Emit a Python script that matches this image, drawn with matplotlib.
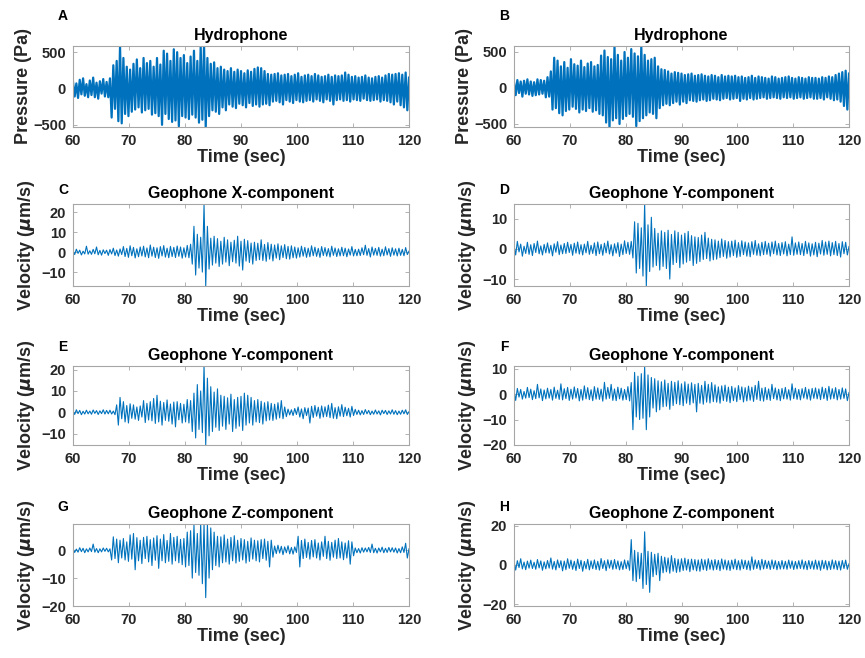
import numpy as np
import matplotlib
matplotlib.use("Agg")
import matplotlib.pyplot as plt

# ====== TRACE VALUES (one value every 0.3 s from 60 s) ======
t_start = 60.0
dt = 0.3

hydro_a = [
    90, -110, 70, -130, 120, -80, 140, -100, 60, -120,
    110, -90, 150, -120, 80, -140, 100, -70, 130, -110,
    90, -120, 140, -400, 320, -280, 380, -450, 580, -480,
    420, -350, 300, -380, 260, -320, 340, -290, 400, -260,
    280, -330, 420, -300, 350, -280, 380, -360, 300, -340,
    420, -380, 330, -500, 520, -350, 480, -420, 380, -460,
    540, -440, 500, -520, 420, -380, 460, -400, 350, -420,
    440, -360, 520, -400, 380, -470, 580, -430, 600, -530,
    420, -380, 340, -300, 360, -320, 280, -350, 300, -260,
    260, -300, 240, -220, 280, -250, 230, -270, 260, -210,
    240, -230, 210, -260, 250, -200, 230, -240, 270, -220,
    290, -250, 280, -220, 240, -210, 200, -230, 190, -180,
    200, -170, 210, -190, 180, -220, 190, -160, 200, -180,
    170, -200, 190, -160, 210, -180, 160, -190, 180, -170,
    190, -160, 170, -180, 200, -150, 180, -170, 160, -190,
    170, -150, 190, -170, 160, -220, 180, -160, 170, -150,
    180, -170, 220, -160, 190, -180, 160, -150, 170, -160,
    150, -170, 160, -140, 180, -160, 150, -170, 140, -160,
    160, -150, 170, -180, 150, -160, 180, -170, 200, -190,
    190, -220, 200, -180, 210, -230, 190, -260, 220, -300,
    150,
]

hydro_b = [
    80, -100, 110, -70, 90, -120, 100, -80, 120, -90,
    90, -110, 80, -100, 120, -90, 110, -80, 100, -130,
    150, -120, 230, -300, 420, -280, 380, -350, 300, -380,
    360, -320, 280, -300, 400, -260, 330, -290, 310, -340,
    380, -300, 290, -320, 340, -280, 360, -330, 300, -310,
    320, -360, 450, -380, 520, -480, 430, -560, 400, -450,
    580, -420, 460, -500, 380, -430, 500, -390, 420, -360,
    540, -400, 480, -530, 440, -460, 580, -420, 460, -380,
    380, -340, 400, -360, 420, -420, 300, -280, 260, -240,
    250, -220, 230, -240, 200, -210, 220, -190, 210, -230,
    200, -190, 180, -210, 190, -170, 200, -180, 170, -190,
    180, -170, 190, -160, 170, -180, 160, -170, 180, -150,
    170, -160, 150, -170, 180, -150, 160, -140, 170, -160,
    160, -150, 170, -140, 150, -180, 160, -150, 140, -160,
    150, -140, 170, -160, 140, -150, 160, -140, 150, -130,
    140, -150, 130, -140, 160, -130, 150, -140, 130, -150,
    140, -130, 150, -140, 160, -130, 140, -150, 130, -140,
    150, -130, 140, -150, 130, -140, 150, -130, 140, -150,
    140, -150, 130, -140, 150, -160, 140, -130, 160, -150,
    150, -170, 180, -160, 200, -190, 220, -250, 240, -300,
    200,
]

geo_c = [
    0.8, -1.2, 1.5, -0.6, 1.0, -1.4, 0.5, -0.9, 3.0, -1.0,
    0.7, -1.1, 1.4, -0.8, 2.6, -1.3, 0.9, -1.5, 1.2, -0.7,
    1.0, -1.6, 1.3, -0.9, 2.0, -1.7, 1.1, -2.0, 1.6, -1.2,
    2.8, -2.2, 1.9, -2.6, 3.2, -1.8, 2.4, -2.9, 1.7, -2.3,
    2.6, -1.9, 3.0, -2.4, 2.1, -2.8, 3.6, -2.0, 2.5, -2.7,
    2.2, -3.1, 2.8, -1.9, 3.3, -2.5, 2.0, -2.8, 2.9, -2.2,
    2.4, -2.7, 3.1, -2.1, 2.6, -3.0, 2.2, -2.5, 3.4, -2.8,
    4.0, -6.0, 13.0, -11.5, 9.0, -8.0, 7.5, -10.0, 24.0, -17.0,
    13.0, -8.5, 7.0, -6.5, 8.0, -5.5, 6.8, -7.2, 5.5, -6.0,
    7.5, -5.0, 6.2, -6.8, 5.0, -4.8, 6.0, -5.5, 8.0, -7.0,
    5.5, -9.0, 6.5, -4.5, 5.8, -5.2, 4.6, -6.0, 5.0, -4.2,
    4.5, -3.8, 6.2, -4.2, 3.9, -4.6, 4.8, -3.5, 4.0, -4.4,
    3.6, -3.0, 4.2, -3.8, 3.2, -2.7, 3.8, -3.3, 2.9, -3.5,
    3.2, -2.8, 2.6, -3.0, 2.2, -2.5, 3.0, -2.0, 2.4, -2.6,
    2.0, -2.3, 3.2, -1.8, 2.5, -2.1, 1.9, -2.6, 2.8, -1.7,
    2.3, -2.0, 1.8, -2.4, 3.0, -1.6, 2.1, -2.2, 1.7, -1.9,
    2.5, -1.8, 2.0, -2.3, 1.6, -1.5, 2.8, -1.9, 1.4, -1.8,
    1.5, -1.7, 2.2, -1.3, 3.5, -1.6, 1.8, -2.4, 2.6, -1.5,
    1.9, -1.6, 2.4, -2.0, 1.5, -1.8, 2.7, -1.4, 1.8, -2.1,
    2.2, -1.5, 1.7, -1.9, 2.0, -1.6, 1.4, -1.8, 2.3, -1.2,
    0.5,
]

geo_d = [
    1.2, -2.0, 2.5, -1.0, 1.6, -2.4, 0.9, -1.5, 2.2, -1.8,
    1.4, -2.2, 1.8, -1.2, 2.6, -1.6, 1.0, -2.0, 1.5, -1.3,
    2.0, -1.4, 1.2, -2.3, 1.7, -1.1, 2.4, -1.9, 1.3, -1.6,
    1.8, -1.5, 2.2, -1.2, 1.5, -2.1, 1.9, -1.4, 2.3, -1.7,
    1.4, -2.0, 1.6, -1.3, 2.5, -1.8, 1.2, -1.5, 2.0, -2.2,
    2.3, -1.6, 1.5, -2.1, 1.9, -1.3, 2.6, -1.7, 1.4, -2.3,
    1.7, -1.4, 2.1, -2.5, 1.6, -1.9, 2.7, -1.5, 2.2, -1.8,
    2.5, -3.0, 9.0, -8.0, 8.5, -6.5, 7.0, -9.0, 15.0, -12.3,
    8.0, -7.5, 10.5, -6.0, 6.8, -5.5, 5.2, -7.0, 6.0, -5.8,
    5.5, -6.5, 6.2, -10.0, 4.8, -5.2, 6.0, -4.5, 5.5, -6.2,
    4.6, -5.0, 5.2, -4.4, 5.8, -3.9, 4.4, -5.5, 4.0, -4.8,
    3.8, -4.2, 4.6, -3.5, 5.5, -3.2, 3.6, -4.0, 3.2, -3.6,
    3.0, -3.4, 2.6, -2.9, 3.3, -2.5, 2.8, -3.1, 2.4, -2.7,
    2.6, -2.2, 2.9, -2.8, 2.1, -2.5, 2.7, -1.9, 2.3, -2.4,
    2.0, -2.6, 2.4, -1.8, 2.8, -2.1, 1.7, -2.3, 2.2, -1.9,
    2.5, -1.8, 1.9, -2.4, 2.3, -1.6, 2.6, -2.0, 1.8, -2.2,
    2.1, -1.7, 2.4, -2.3, 1.6, -1.9, 4.0, -2.1, 2.0, -1.8,
    2.3, -1.9, 1.8, -2.2, 2.5, -1.6, 2.0, -2.4, 1.7, -2.0,
    2.2, -2.6, 1.9, -1.7, 2.8, -2.1, 2.3, -1.8, 2.6, -2.3,
    2.1, -1.9, 2.5, -2.2, 1.8, -2.7, 2.4, -1.6, 2.2, -2.0,
    0.8,
]

geo_e = [
    0.8, -1.0, 1.2, -0.6, 0.9, -1.1, 0.5, -0.8, 1.0, -0.7,
    0.6, -0.9, 1.1, -0.5, 0.8, -1.0, 0.7, -0.6, 1.2, -0.8,
    0.9, -0.7, 1.0, -0.8, 0.6, -1.1, 3.5, -6.0, 7.0, -3.0,
    5.0, -4.5, 3.2, -5.0, 4.0, -2.8, 3.5, -3.2, 2.5, -3.8,
    3.0, -2.2, 5.5, -4.8, 4.2, -3.6, 5.0, -4.0, 6.5, -5.2,
    8.0, -4.5, 5.2, -6.0, 4.6, -3.8, 5.8, -4.2, 3.9, -5.5,
    4.8, -6.8, 5.0, -3.5, 4.2, -5.0, 3.8, -4.5, 6.0, -5.0,
    5.5, -9.0, 9.0, -12.0, 13.0, -8.0, 10.0, -9.5, 22.0, -15.3,
    16.0, -11.0, 12.0, -9.0, 9.5, -7.0, 11.0, -8.5, 8.0, -6.5,
    7.5, -8.0, 6.8, -5.5, 8.5, -9.0, 6.0, -7.5, 7.0, -6.5,
    7.5, -8.5, 9.0, -6.0, 8.0, -5.0, 7.0, -6.0, 5.5, -4.5,
    6.0, -4.8, 5.2, -5.5, 4.5, -4.0, 5.0, -3.6, 4.2, -3.8,
    3.8, -3.2, 4.5, -2.6, 5.5, -3.0, 2.5, -2.0, 1.5, -1.2,
    1.2, -1.5, 1.8, -1.0, 2.5, -2.2, 1.6, -3.0, 2.2, -1.5,
    2.0, -5.0, 2.8, -2.4, 3.2, -1.8, 2.4, -2.8, 3.0, -2.2,
    2.6, -2.0, 3.4, -2.5, 4.2, -2.8, 2.2, -3.0, 2.6, -1.8,
    3.6, -2.0, 2.4, -1.6, 1.9, -2.2, 2.8, -1.5, 1.4, -1.0,
    1.0, -1.2, 0.8, -1.0, 1.3, -0.7, 0.9, -1.1, 0.6, -0.9,
    1.1, -0.8, 0.7, -1.2, 1.0, -0.6, 0.9, -1.0, 0.7, -0.8,
    1.2, -0.9, 0.8, -1.1, 0.6, -0.9, 1.0, -0.7, 1.2, -1.0,
    0.3,
]

geo_f = [
    1.5, -2.5, 2.2, -1.2, 1.8, -2.0, 1.0, -1.6, 2.6, -1.4,
    1.9, -2.2, 1.3, -1.8, 3.8, -1.5, 2.0, -2.6, 1.6, -1.9,
    2.3, -1.6, 1.8, -2.4, 2.7, -1.7, 1.5, -2.1, 4.0, -2.3,
    2.1, -1.8, 2.6, -2.5, 1.9, -2.0, 2.8, -1.6, 2.2, -2.7,
    1.8, -2.4, 3.2, -1.9, 2.5, -2.2, 1.7, -2.6, 2.9, -2.0,
    2.4, -2.1, 1.9, -2.8, 4.6, -2.0, 2.6, -1.7, 3.8, -2.5,
    2.0, -2.6, 2.7, -1.9, 2.3, -2.4, 1.8, -2.2, 2.9, -2.7,
    4.5, -14.0, 8.5, -9.0, 7.0, -10.0, 8.0, -9.5, 11.0, -14.0,
    7.5, -9.0, 6.5, -5.5, 6.0, -7.0, 5.2, -6.2, 4.8, -5.0,
    5.5, -4.8, 4.2, -6.0, 5.0, -4.5, 4.6, -3.8, 5.2, -4.2,
    4.0, -4.6, 4.8, -3.6, 3.9, -4.2, 4.4, -3.5, 3.8, -7.0,
    4.2, -3.6, 3.4, -4.0, 5.0, -3.2, 3.8, -3.5, 4.5, -3.0,
    3.6, -3.2, 2.8, -3.6, 3.2, -2.6, 3.5, -2.9, 2.7, -3.4,
    3.0, -2.6, 2.4, -3.0, 3.3, -2.2, 2.8, -3.1, 2.5, -2.7,
    3.1, -2.4, 2.7, -2.9, 3.4, -2.1, 5.0, -2.6, 2.3, -2.8,
    2.6, -2.2, 2.0, -2.5, 3.8, -1.8, 2.4, -2.3, 1.9, -2.6,
    2.2, -1.9, 2.6, -2.0, 1.7, -2.4, 4.0, -1.8, 2.3, -2.1,
    1.8, -2.3, 2.1, -1.6, 2.6, -2.0, 1.9, -2.4, 2.2, -1.7,
    2.4, -1.9, 2.0, -2.2, 2.7, -1.8, 2.2, -2.5, 3.0, -2.0,
    2.1, -1.8, 2.5, -2.3, 1.8, -2.0, 2.4, -1.7, 2.0, -2.6,
    0.6,
]

geo_g = [
    0.6, -0.8, 0.4, -0.7, 0.9, -0.5, 0.7, -0.9, 0.5, -0.6,
    0.8, -0.5, 2.2, -0.7, 0.6, -0.9, 0.5, -0.6, 0.8, -0.4,
    0.7, -0.6, 0.5, -3.5, 4.8, -3.0, 4.0, -4.5, 3.6, -2.8,
    4.2, -3.5, 3.0, -4.0, 5.5, -3.2, 6.0, -7.0, 4.5, -3.8,
    3.6, -4.8, 4.6, -3.0, 5.0, -4.2, 3.8, -5.5, 4.4, -3.6,
    5.2, -6.5, 4.0, -3.8, 5.6, -4.5, 3.5, -4.0, 6.0, -5.0,
    4.6, -3.8, 5.0, -4.5, 3.9, -5.2, 4.2, -6.0, 6.5, -5.5,
    7.0, -10.0, 9.0, -8.0, 6.0, -9.0, 9.4, -12.0, 9.4, -17.0,
    9.4, -10.0, 8.0, -7.0, 6.5, -5.5, 5.0, -6.0, 4.8, -4.5,
    5.5, -4.2, 4.0, -5.0, 4.6, -3.8, 5.2, -4.6, 3.6, -4.0,
    4.2, -3.5, 3.8, -4.6, 3.2, -4.0, 4.4, -3.2, 3.6, -3.8,
    3.4, -4.2, 3.8, -3.0, 4.0, -3.6, 3.2, -6.0, 3.6, -2.5,
    1.5, -1.2, 1.8, -1.0, 1.4, -1.6, 1.2, -0.9, 1.6, -1.3,
    1.0, -1.4, 1.2, -0.8, 5.0, -6.0, 3.5, -3.0, 4.0, -2.6,
    2.8, -3.2, 3.5, -2.4, 3.8, -2.8, 2.6, -3.5, 3.0, -2.2,
    5.0, -3.0, 3.2, -3.6, 2.8, -2.5, 3.6, -3.0, 4.2, -2.8,
    3.0, -3.4, 2.6, -2.8, 3.4, -5.0, 3.0, -2.0, 0.8, -0.9,
    0.6, -1.0, 0.9, -0.7, 0.8, -0.6, 1.0, -0.8, 2.2, -0.9,
    0.7, -1.0, 0.8, -0.6, 1.1, -0.9, 0.7, -0.8, 1.0, -0.6,
    0.9, -0.7, 0.8, -1.0, 0.6, -0.9, 1.2, -0.8, 2.5, -2.8,
    0.5,
]

geo_h = [
    1.8, -2.6, 2.2, -1.3, 3.2, -2.0, 1.5, -2.4, 2.0, -1.6,
    2.5, -1.8, 1.4, -2.2, 2.8, -1.5, 2.1, -2.7, 1.6, -2.0,
    2.3, -1.6, 3.6, -2.1, 1.8, -2.5, 2.6, -1.4, 2.2, -3.0,
    2.0, -2.4, 3.2, -1.7, 2.5, -2.2, 1.9, -2.8, 3.0, -1.8,
    2.4, -3.2, 1.8, -2.0, 2.9, -2.5, 2.1, -1.9, 2.6, -2.3,
    1.9, -2.6, 3.3, -1.8, 2.2, -2.9, 2.7, -1.6, 2.4, -2.2,
    2.8, -2.0, 2.1, -2.5, 1.7, -2.3, 2.6, -1.9, 2.2, -2.7,
    13.0, -8.0, 7.5, -8.5, 6.5, -7.0, 6.0, -12.0, 17.0, -10.0,
    7.0, -14.0, 6.5, -6.0, 5.5, -5.0, 6.0, -8.0, 4.5, -4.0,
    4.0, -3.5, 3.6, -4.2, 4.8, -3.2, 3.4, -3.8, 3.0, -3.5,
    3.2, -2.8, 3.5, -2.6, 2.9, -3.4, 3.0, -2.5, 2.8, -3.0,
    2.6, -3.2, 3.0, -2.4, 2.7, -2.8, 3.2, -2.2, 2.5, -2.6,
    2.8, -2.3, 2.4, -2.9, 3.1, -2.1, 2.6, -2.5, 2.2, -2.8,
    2.5, -2.0, 3.0, -2.4, 2.2, -2.6, 2.7, -1.9, 2.4, -2.3,
    2.1, -2.7, 4.2, -2.2, 2.6, -1.8, 2.3, -2.5, 2.9, -2.0,
    2.4, -1.8, 2.0, -2.3, 2.6, -1.9, 2.2, -2.4, 1.8, -2.1,
    2.3, -2.0, 1.9, -2.2, 2.5, -1.7, 2.1, -2.3, 1.8, -2.0,
    2.2, -1.8, 2.6, -2.1, 1.9, -2.4, 2.3, -1.9, 2.0, -2.2,
    2.5, -2.2, 2.1, -2.7, 2.4, -1.9, 2.2, -2.5, 1.9, -2.3,
    2.6, -2.0, 2.2, -2.4, 2.0, -2.6, 2.3, -1.8, 2.5, -2.2,
    0.6,
]

letters = ["A", "B", "C", "D", "E", "F", "G", "H"]
titles = ["Hydrophone", "Hydrophone",
          "Geophone X-component", "Geophone Y-component",
          "Geophone Y-component", "Geophone Y-component",
          "Geophone Z-component", "Geophone Z-component"]
traces = [hydro_a, hydro_b, geo_c, geo_d, geo_e, geo_f, geo_g, geo_h]
ylims = [(-530, 585), (-542, 583), (-17, 24.2), (-12.3, 14.9),
         (-15.3, 21.7), (-20, 11), (-20, 9.4), (-21, 21)]
yticks = [[-500, 0, 500], [-500, 0, 500], [-10, 0, 10, 20], [-10, 0, 10],
          [-10, 0, 10, 20], [-20, -10, 0, 10], [-20, -10, 0], [-20, 0, 20]]
xticks = [60, 70, 80, 90, 100, 110, 120]

# ====== FIGURE ======
plt.rcParams["font.family"] = ["Liberation Sans", "DejaVu Sans"]
plt.rcParams["font.weight"] = "bold"
plt.rcParams["mathtext.fontset"] = "dejavusans"

W, H = 865, 658
fig = plt.figure(figsize=(W / 100, H / 100), dpi=100)

cols_px = [(73, 409), (514, 849)]
rows_px = [(46, 127), (204, 286), (366, 445), (524, 606)]
letter_dy = [30, 14, 19, 17]

edge = "#a6a6a6"
txt = "#262626"
line_color = "#0072BD"

for k in range(8):
    r, c = divmod(k, 2)
    x0, x1 = cols_px[c]
    y0, y1 = rows_px[r]
    ax = fig.add_axes([x0 / W, 1 - y1 / H, (x1 - x0) / W, (y1 - y0) / H])

    vals = np.array(traces[k], dtype=float)
    t = t_start + dt * np.arange(len(vals))
    lw = 1.6 if r == 0 else 0.8
    ax.plot(t, vals, color=line_color, lw=lw)

    ax.set_xlim(60, 120)
    ax.set_ylim(*ylims[k])
    ax.set_xticks(xticks)
    ax.set_yticks(yticks[k])
    ax.tick_params(direction="in", length=3, width=0.6, color=edge,
                   labelsize=10.5, labelcolor=txt, top=True, right=True)
    ax.tick_params(axis="x", pad=5)
    ax.tick_params(axis="y", pad=5)
    for lab in ax.get_xticklabels() + ax.get_yticklabels():
        lab.set_fontweight("bold")
    for s in ax.spines.values():
        s.set_color(edge)
        s.set_linewidth(0.8)

    ax.set_title(titles[k], fontsize=11.5, fontweight="bold", color="black", pad=4)
    ax.set_xlabel("Time (sec)", fontsize=13, fontweight="bold", color=txt, labelpad=1)
    if r == 0:
        ax.set_ylabel("Pressure (Pa)", fontsize=13, fontweight="bold", color=txt, labelpad=1)
    else:
        ax.set_ylabel(r"Velocity ($\mu$m/s)", fontsize=13, fontweight="bold", color=txt, labelpad=3)

    fig.text((x0 - 10) / W, 1 - (y0 - letter_dy[r]) / H, letters[k],
             fontsize=10, fontweight="bold", ha="center", va="center", color="black")

fig.savefig("out.png", dpi=100)
